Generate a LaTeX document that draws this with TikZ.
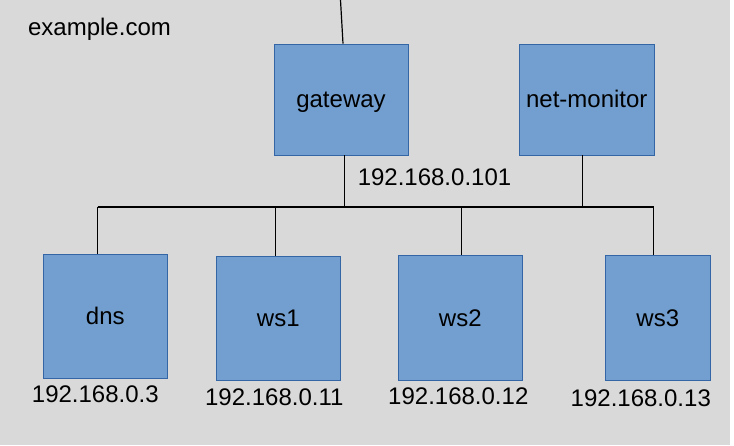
\documentclass[tikz,border=0pt]{standalone}
\usepackage{fontspec}
\setmainfont{Liberation Sans}
\usetikzlibrary{positioning}
\definecolor{boxfill}{HTML}{729FCF}
\definecolor{boxline}{HTML}{3465A4}
\definecolor{paper}{HTML}{D9D9D9}

\begin{document}
\begin{tikzpicture}[x=1pt, y=-1pt, every node/.style={font=\fontsize{24}{28}\selectfont, inner sep=0pt},
    host/.style={draw=boxline, line width=0.8pt, fill=boxfill, text height=22pt, text depth=5pt},
    addr/.style={text height=17pt, text depth=0pt},
    wire/.style={line width=1.2pt}]
    \fill[paper] (0,0) rectangle (730,445);
    \useasboundingbox (0,0) rectangle (734,446);
    \node (domain) [addr] at (99.5,27.2) {example.com};
    % upper row
    \node (gateway) [host, minimum width=134pt, minimum height=111pt] at (341,99.5) {gateway};
    \node (netmon)  [host, minimum width=135pt, minimum height=111pt] at (586.8,99.5) {net-monitor};
    \node (ip-gw)   [addr] at (434.5,177.5) {192.168.0.101};
    % lower row
    \node (dns) [host, minimum width=124pt, minimum height=124pt] at (105.3,316.2) {dns};
    \node (ws1) [host, minimum width=124pt, minimum height=124pt] at (278.3,318.2) {ws1};
    \node (ws2) [host, minimum width=124pt, minimum height=125pt] at (460.3,317.7) {ws2};
    \node (ws3) [host, minimum width=105pt, minimum height=125pt] at (657.8,317.7) {ws3};
    \node (ip-dns) [addr, below=7pt of dns, xshift=-10pt] {192.168.0.3};
    \node (ip-ws1) [addr, below=8pt of ws1, xshift=-4pt] {192.168.0.11};
    \node (ip-ws2) [addr, below=6.5pt of ws2, xshift=-2pt] {192.168.0.12};
    \node (ip-ws3) [addr, below=9pt of ws3, xshift=-17pt] {192.168.0.13};
    % wiring
    \coordinate (uplink) at (340.5,0);
    \coordinate (busL) at (97.5,207);
    \coordinate (busR) at (653.5,207);
    \draw[wire] (uplink) -- ([xshift=2pt]gateway.north);
    \draw[wire] (busL) -- (busR);
    \draw[wire] ([xshift=3.5pt]gateway.south) -- ([xshift=3.5pt]gateway.south |- busL);
    \draw[wire] ([xshift=-4pt]netmon.south) -- ([xshift=-4pt]netmon.south |- busL);
    \draw[wire] (busL) -- (busL |- dns.north);
    \draw[wire] ([xshift=-2.6pt]ws1.north |- busL) -- ([xshift=-2.6pt]ws1.north);
    \draw[wire] ([xshift=1.4pt]ws2.north |- busL) -- ([xshift=1.4pt]ws2.north);
    \draw[wire] (busR) -- (busR |- ws3.north);
  \end{tikzpicture}
\end{document}
